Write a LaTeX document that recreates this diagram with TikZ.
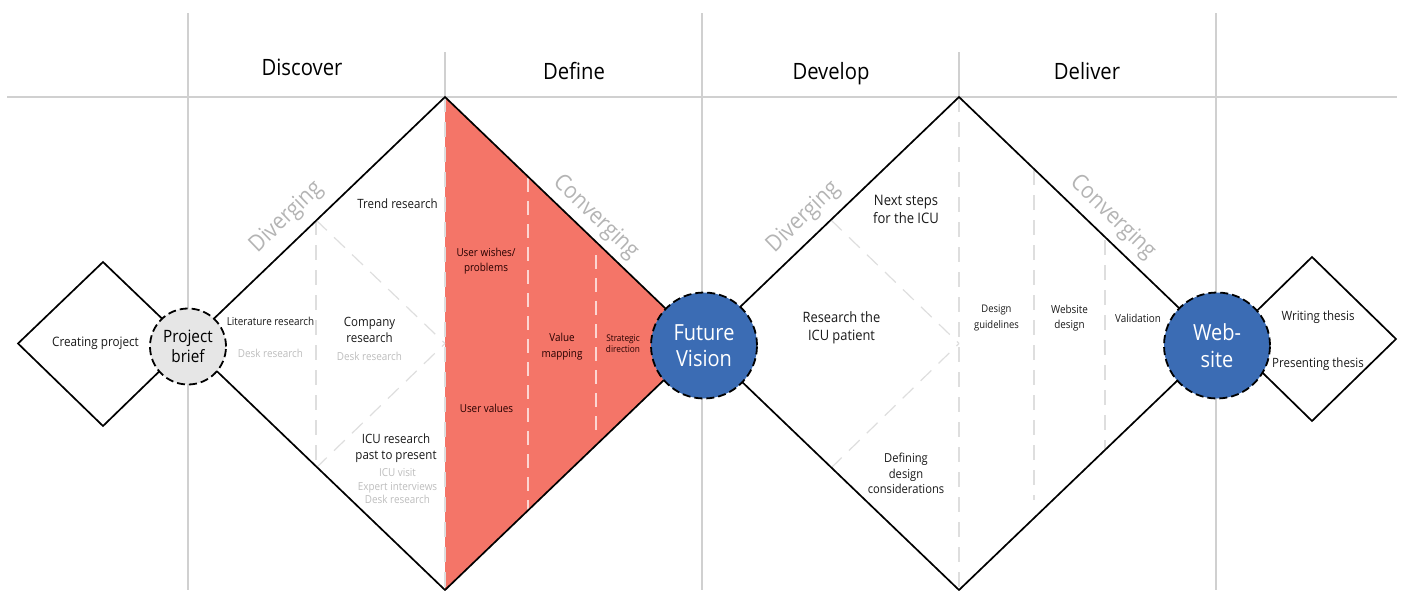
\documentclass[tikz,border=0pt]{standalone}
\usepackage{fontspec}
\setmainfont[FakeStretch=0.9]{Open Sans}
\definecolor{gridgrey}{HTML}{D0D0D0}
\definecolor{dashgrey}{HTML}{DEDEDE}
\definecolor{softtext}{HTML}{BDBDBD}
\definecolor{arrowtext}{HTML}{B4B4B4}
\definecolor{redfill}{HTML}{F47568}
\definecolor{bluefill}{HTML}{3B6CB4}
\definecolor{circlegrey}{HTML}{E6E6E6}
\tikzset{
  x=1pt,y=-1pt,
  grid/.style={draw=gridgrey,line width=1.5pt},
  griddash/.style={draw=dashgrey,line width=1.2pt,dash pattern=on 15pt off 10pt},
  whitedash/.style={draw=white!70!redfill,line width=1.5pt,dash pattern=on 14pt off 9pt},
  outline/.style={draw=black,line width=1.7pt,line join=miter},
  phase/.style={font=\fontsize{22.5}{26}\selectfont,inner sep=0pt,text=black,anchor=base},
  lab/.style={font=\fontsize{11}{15.5}\selectfont,align=center,inner sep=0pt,text=black!90},
  labbig/.style={font=\fontsize{12.8}{16}\selectfont,align=center,inner sep=0pt,text=black!90},
  soft/.style={font=\fontsize{11}{13.5}\selectfont,align=center,inner sep=0pt,text=softtext},
  slant/.style={font=\fontsize{23}{26}\selectfont,inner sep=0pt,text=arrowtext},
  hub/.style={circle,minimum size=#1,inner sep=0pt,align=center,draw=black,line width=1.8pt,dash pattern=on 8pt off 4pt},
}
\begin{document}
\begin{tikzpicture}
\useasboundingbox (0,0) rectangle (1407,590);
% key points
\coordinate (la) at (188,343.5);
\coordinate (ta) at (445,97);
\coordinate (ba) at (445,590);
\coordinate (mid) at (702,343.5);
\coordinate (tb) at (959,97);
\coordinate (bb) at (959,590);
\coordinate (rb) at (1216,343.5);
% red
\fill[redfill] (ta) -- (mid) -- (ba) -- cycle;
% grid
\coordinate (hl) at (7,97); \coordinate (hr) at (1397,97);
\draw[grid] (hl) -- (hr);
\foreach \n/\x/\y in {v1/188/13,v3/702/13,v5/1216/13}{
  \coordinate (\n t) at (\x,\y); \coordinate (\n b) at (\x,590);
  \draw[grid] (\n t) -- (\n b);
}
\coordinate (v2t) at (445,52); \coordinate (v4t) at (959,52);
\draw[grid] (v2t) -- (ta);
\draw[grid] (v4t) -- (tb);
\draw[griddash] (ta) -- (ba);
\draw[griddash] (tb) -- (bb);
% inner dashes
\coordinate (i1t) at (316,220); \coordinate (i1b) at (316,468); \coordinate (i1r) at (445,343.5);
\coordinate (i2t) at (831,220); \coordinate (i2b) at (831,468); \coordinate (i2r) at (959,343.5);
\draw[griddash] (i1t) -- (i1b);
\draw[griddash] (i1t) -- (i1r);
\draw[griddash] (i1b) -- (i1r);
\draw[griddash] (i2t) -- (i2r);
\draw[griddash] (i2b) -- (i2r);
\coordinate (r1t) at (528,178); \coordinate (r1b) at (528,510);
\coordinate (r2t) at (596,255); \coordinate (r2b) at (596,438);
\draw[whitedash] (r1t) -- (r1b);
\draw[whitedash] (r2t) -- (r2b);
\coordinate (d1t) at (1034,170); \coordinate (d1b) at (1034,500);
\coordinate (d2t) at (1105,240); \coordinate (d2b) at (1105,450);
\draw[griddash] (d1t) -- (d1b);
\draw[griddash] (d2t) -- (d2b);
% big diamonds
\draw[outline] (la) -- (ta) -- (mid) -- (tb) -- (rb) -- (bb) -- (mid) -- (ba) -- cycle;
% small diamonds
\coordinate (sl) at (18,343.5); \coordinate (st) at (103,262); \coordinate (sb) at (103,426);
\draw[outline] (sl) -- (st) -- (la) -- (sb) -- cycle;
\coordinate (el) at (1228,339); \coordinate (et) at (1312,257); \coordinate (er) at (1396,339); \coordinate (eb) at (1312,421);
\draw[outline] (el) -- (et) -- (er) -- (eb) -- cycle;
% hubs
\node[hub=76pt,fill=circlegrey,font=\fontsize{17}{20.5}\selectfont] (brief) at (188,346.5) {Project\\brief};
\node[hub=106pt,fill=bluefill,text=white,font=\fontsize{22.2}{26.5}\selectfont] (vision) at (704,345.5) {Future\\Vision};
\node[hub=106pt,fill=bluefill,text=white,font=\fontsize{22.2}{26.5}\selectfont] (web) at (1217,345.5) {Web-\\site};
% phases
\node[phase] (discover) at (302,75) {Discover};
\node[phase] (define) at (574,79) {Define};
\node[phase] (develop) at (831,79) {Develop};
\node[phase] (deliver) at (1087,79) {Deliver};
% slanted
\node[slant,rotate=44] (div1) at (286.5,217.5) {Diverging};
\node[slant,rotate=-44] (con1) at (595.5,217.5) {Converging};
\node[slant,rotate=44] (div2) at (803.5,217.5) {Diverging};
\node[slant,rotate=-44] (con2) at (1112.5,217.5) {Converging};
% labels
\node[lab,font=\fontsize{13}{15}\selectfont] (creating) at (95.5,343.5) {Creating project};
\node[lab] (lit) at (270.5,321) {Literature research};
\node[soft] (desk1) at (270.5,353) {Desk research};
\node[labbig] (trend) at (397.5,204) {Trend research};
\node[labbig] (company) at (369.5,329.5) {Company\\research};
\node[soft] (desk2) at (369.5,356) {Desk research};
\node[labbig] (icu) at (396,448) {ICU research\\past to present};
\node[soft] (icusub) at (397.5,486.5) {ICU visit\\Expert interviews\\Desk research};
\node[lab,text=black!85!red] (wishes) at (486,261) {User wishes/\\problems};
\node[lab,text=black!85!red] (values) at (486.5,408) {User values};
\node[lab,text=black!85!red] (valuemap) at (562,346.5) {Value\\mapping};
\node[font=\fontsize{9.2}{11}\selectfont,align=center,inner sep=0pt,text=black!85!red] (strategic) at (623,344) {Strategic\\direction};
\node[font=\fontsize{14.5}{17.5}\selectfont,align=center,inner sep=0pt,text=black!90] (next) at (906,209.5) {Next steps\\for the ICU};
\node[font=\fontsize{14.3}{18}\selectfont,align=center,inner sep=0pt,text=black!90] (patient) at (841.5,328) {Research the\\ICU patient};
\node[lab,font=\fontsize{12.4}{15.5}\selectfont] (defining) at (906,473.5) {Defining\\design\\considerations};
\node[lab,font=\fontsize{10.5}{15.5}\selectfont] (guidelines) at (996.5,318) {Design\\guidelines};
\node[lab] (webdesign) at (1069.5,318) {Website\\design};
\node[lab] (validation) at (1138,318) {Validation};
\node[lab,font=\fontsize{12.8}{15}\selectfont] (writing) at (1318,317.5) {Writing thesis};
\node[lab,font=\fontsize{12.8}{15}\selectfont] (presenting) at (1318,364.5) {Presenting thesis};
\end{tikzpicture}
\end{document}
